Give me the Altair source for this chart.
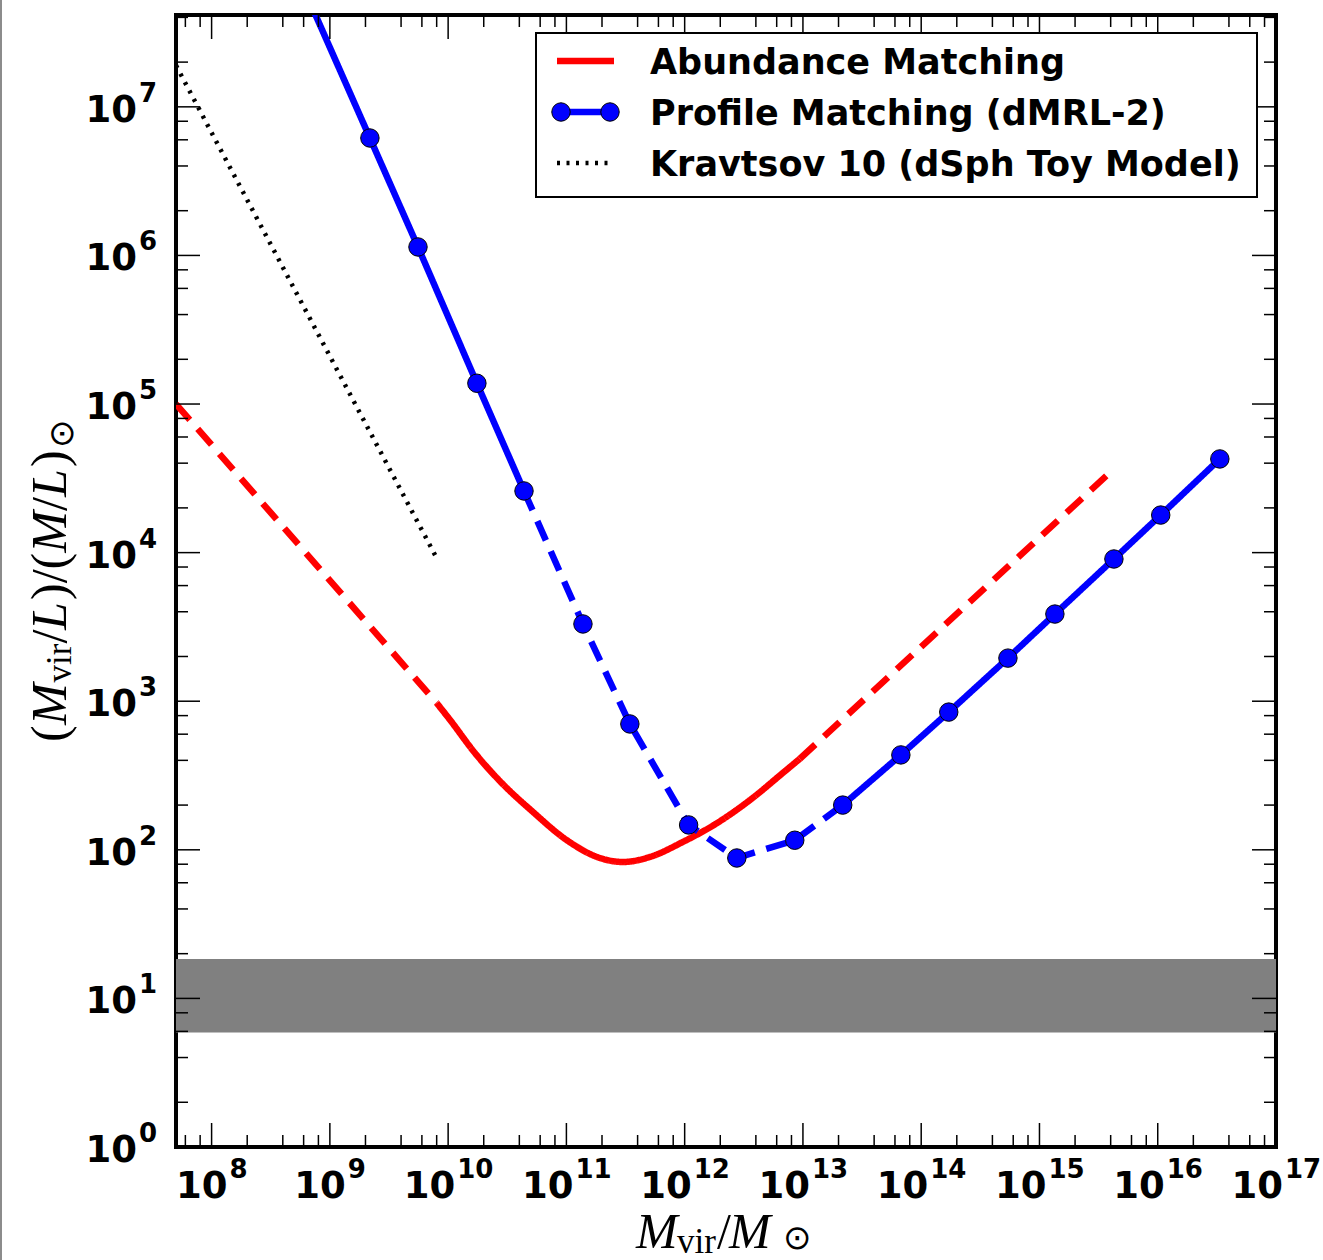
import altair as alt
import pandas as pd

# ---------------------------------------------------------------------------
# Data: halo mass vs. mass-to-light ratio (both in solar units)
# ---------------------------------------------------------------------------
# Abundance matching: extrapolated low-mass tail, constrained core, high-mass tail
am_low_mass = [5.0e7, 8.0e9]
am_low_ml = [1.0e5, 973]
am_core_mass = [8.0e9, 1.04e10, 1.66e10, 2.74e10, 5.21e10, 1.01e11, 1.92e11,
                3.01e11, 5.08e11, 9.66e11, 1.87e12, 3.56e12, 6.76e12, 9.42e12]
am_core_ml = [973, 747, 455, 290, 180, 116, 88.1, 82.8, 89.5, 113, 151, 216, 329, 410]
am_high_mass = [9.42e12, 4.34e15]
am_high_ml = [410, 3.71e4]

# Profile matching (dMRL-2)
pm_mass = [6.9e8, 2.18e9, 5.56e9, 1.75e10, 4.38e10, 1.38e11, 3.44e11, 1.08e12,
           2.76e12, 8.53e12, 2.17e13, 6.73e13, 1.71e14, 5.41e14, 1.35e15,
           4.26e15, 1.06e16, 3.35e16]
pm_ml = [4.9e7, 6.17e6, 1.14e6, 1.38e5, 2.60e4, 3.31e3, 703, 147, 88.1, 116,
         200, 435, 845, 1.95e3, 3.86e3, 9.06e3, 1.79e4, 4.27e4]
# (first index, last index, line style) of each stretch of the profile curve
pm_parts = [(0, 4, "solid"), (4, 10, "dashed"), (10, 17, "solid")]

# Kravtsov (2010) dSph toy model
kr_mass = [5.0e7, 8.0e9]
kr_ml = [1.9e7, 9.2e3]

# Stellar M/L band
band_ml = [5.9, 18.4]

x_exponents = list(range(8, 18))
y_exponents = list(range(0, 8))

legend_labels = ["Abundance Matching", "Profile Matching (dMRL-2)",
                 "Kravtsov 10 (dSph Toy Model)"]

# ---------------------------------------------------------------------------
# Layout
# ---------------------------------------------------------------------------
W, H = 1100, 1132
X_DOMAIN = [5.0e7, 1.0e17]
Y_DOMAIN = [1.0, 4.15e7]
xs = alt.Scale(type="log", domain=X_DOMAIN, nice=False)
ys = alt.Scale(type="log", domain=Y_DOMAIN, nice=False)
RED, BLUE = "#ff0000", "#0000ff"
TICK_FONT = "DejaVu Sans"
MATH_FONT = "Liberation Serif"
one = pd.DataFrame({"k": [0]})

X = lambda f="mass": alt.X(f"{f}:Q", scale=xs, axis=None)
Y = lambda f="ml": alt.Y(f"{f}:Q", scale=ys, axis=None)

layers = []

# grey band
layers.append(
    alt.Chart(pd.DataFrame({"lo": [band_ml[0]], "hi": [band_ml[1]]}))
    .mark_rect(color="#808080", opacity=1)
    .encode(x=alt.value(0), x2=alt.value(W), y=Y("lo"), y2=alt.Y2("hi:Q"))
)

# abundance matching curve
am = pd.concat([
    pd.DataFrame({"mass": am_low_mass, "ml": am_low_ml, "part": "low", "style": "dashed"}),
    pd.DataFrame({"mass": am_core_mass, "ml": am_core_ml, "part": "core", "style": "solid"}),
    pd.DataFrame({"mass": am_high_mass, "ml": am_high_ml, "part": "high", "style": "dashed"}),
])
dash = alt.StrokeDash("style:N", scale=alt.Scale(domain=["solid", "dashed"],
                                                 range=[[1, 0], [21, 12]]), legend=None)
layers.append(
    alt.Chart(am).mark_line(color=RED, strokeWidth=6.5, clip=True, interpolate="monotone")
    .encode(x=X(), y=Y(), detail="part:N", strokeDash=dash, order="mass:Q")
)

# profile matching curve
pm_frames = []
for i, (a, b, style) in enumerate(pm_parts):
    pm_frames.append(pd.DataFrame({"mass": pm_mass[a:b + 1], "ml": pm_ml[a:b + 1],
                                   "part": f"p{i}", "style": style}))
pm = pd.concat(pm_frames)
layers.append(
    alt.Chart(pm).mark_line(color=BLUE, strokeWidth=6.5, clip=True)
    .encode(x=X(), y=Y(), detail="part:N", strokeDash=dash, order="mass:Q")
)
layers.append(
    alt.Chart(pd.DataFrame({"mass": pm_mass, "ml": pm_ml}))
    .transform_filter(f"datum.ml <= {Y_DOMAIN[1]}")
    .mark_circle(size=340, color=BLUE, opacity=1, stroke="black", strokeWidth=1, clip=True)
    .encode(x=X(), y=Y())
)

# Kravtsov toy model
layers.append(
    alt.Chart(pd.DataFrame({"mass": kr_mass, "ml": kr_ml}))
    .mark_line(color="black", strokeWidth=4.5, strokeDash=[3, 6.5], clip=True)
    .encode(x=X(), y=Y())
)

# inward ticks on all four sides
x_major = [10.0 ** e for e in range(8, 17)]
x_minor = [k * 10.0 ** e for e in range(7, 17) for k in (2, 4, 6, 8)
           if X_DOMAIN[0] <= k * 10.0 ** e <= X_DOMAIN[1]]
y_major = [10.0 ** e for e in range(0, 8)]
y_minor = [k * 10.0 ** e for e in range(0, 8) for k in (2, 4, 6, 8)
           if k * 10.0 ** e <= Y_DOMAIN[1]]

for vals, length in ((x_major, 24), (x_minor, 12)):
    base = alt.Chart(pd.DataFrame({"v": vals})).mark_rule(color="black", strokeWidth=1.5)
    layers.append(base.encode(x=X("v"), y=alt.value(H), y2=alt.value(H - length)))
    layers.append(base.encode(x=X("v"), y=alt.value(0), y2=alt.value(length)))
for vals, length in ((y_major, 24), (y_minor, 12)):
    base = alt.Chart(pd.DataFrame({"v": vals})).mark_rule(color="black", strokeWidth=1.5)
    layers.append(base.encode(y=Y("v"), x=alt.value(0), x2=alt.value(length)))
    layers.append(base.encode(y=Y("v"), x=alt.value(W), x2=alt.value(W - length)))

# tick labels: "10" with a raised exponent
BASE_SIZE, EXP_SIZE = 37, 26
xl = pd.DataFrame({"v": [10.0 ** e for e in x_exponents],
                   "e": [str(e) for e in x_exponents],
                   "n": [len(str(e)) for e in x_exponents]})
for n, d10, dexp in ((1, 16, 18), (2, 7, 9)):
    sub = alt.Chart(xl).transform_filter(f"datum.n == {n}")
    layers.append(
        sub.mark_text(align="right", baseline="alphabetic", font=TICK_FONT,
                      fontWeight="bold", fontSize=BASE_SIZE, dx=d10)
        .encode(x=X("v"), y=alt.value(H + 51), text=alt.value("10"))
    )
    layers.append(
        sub.mark_text(align="left", baseline="alphabetic", font=TICK_FONT,
                      fontWeight="bold", fontSize=EXP_SIZE, dx=dexp)
        .encode(x=X("v"), y=alt.value(H + 31), text="e:N")
    )

yl = pd.DataFrame({"v": [10.0 ** e for e in y_exponents],
                   "e": [str(e) for e in y_exponents]})
layers.append(
    alt.Chart(yl).mark_text(align="right", baseline="alphabetic", font=TICK_FONT,
                            fontWeight="bold", fontSize=BASE_SIZE, dy=15)
    .encode(x=alt.value(-39), y=Y("v"), text=alt.value("10"))
)
layers.append(
    alt.Chart(yl).mark_text(align="right", baseline="alphabetic", font=TICK_FONT,
                            fontWeight="bold", fontSize=EXP_SIZE, dy=-5)
    .encode(x=alt.value(-19), y=Y("v"), text="e:N")
)


def piece(text, x, y, size, font=MATH_FONT, style="italic", angle=0):
    return (alt.Chart(one)
            .mark_text(text=text, font=font, fontStyle=style, fontSize=size,
                       align="left", baseline="alphabetic", angle=angle, color="black")
            .encode(x=alt.value(x), y=alt.value(y)))


# x-axis title  M_vir / M_sun
TS, SS, SUN = 50, 35, 34
layers += [
    piece("M", 460, 1233, TS),
    piece("vir", 501, 1238, SS, style="normal"),
    piece("/", 541, 1233, TS, style="normal"),
    piece("M", 553, 1233, TS),
    piece("\u2299", 607, 1234, SUN, font="DejaVu Sans", style="normal"),
]

# y-axis title  (M_vir/L)/(M/L)_sun, reading upwards
B, S0 = -110, 727
ytitle = [("(", 0, TS, "normal", MATH_FONT, 0), ("M", 17, TS, "italic", MATH_FONT, 0),
          ("vir", 59.5, SS, "normal", MATH_FONT, 5), ("/", 98.5, TS, "normal", MATH_FONT, 0),
          ("L", 112, TS, "italic", MATH_FONT, 0), (")", 142, TS, "normal", MATH_FONT, 0),
          ("/", 158.7, TS, "normal", MATH_FONT, 0), ("(", 172.6, TS, "normal", MATH_FONT, 0),
          ("M", 189.3, TS, "italic", MATH_FONT, 0), ("/", 231, TS, "normal", MATH_FONT, 0),
          ("L", 245, TS, "italic", MATH_FONT, 0), (")", 275, TS, "normal", MATH_FONT, 0),
          ("\u2299", 294, SUN, "normal", "DejaVu Sans", 7)]
for txt, off, size, style, font, shift in ytitle:
    layers.append(piece(txt, B + shift, S0 - off, size, font=font, style=style, angle=270))

# legend
LX0, LX1, LY0, LY1 = 360, 1081, 18, 182
ROW0, ROWH = 46, 51
SX0, SX1 = 381, 438
layers.append(
    alt.Chart(one).mark_rect(fill="white", stroke="black", strokeWidth=2)
    .encode(x=alt.value(LX0), x2=alt.value(LX1), y=alt.value(LY0), y2=alt.value(LY1))
)
layers.append(
    alt.Chart(one).mark_rule(color=RED, strokeWidth=6.5)
    .encode(x=alt.value(SX0), x2=alt.value(SX1), y=alt.value(ROW0))
)
layers.append(
    alt.Chart(one).mark_rule(color=BLUE, strokeWidth=6.5)
    .encode(x=alt.value(SX0 + 4), x2=alt.value(SX1 - 4), y=alt.value(ROW0 + ROWH))
)
for cx in (SX0 + 4, SX1 - 4):
    layers.append(
        alt.Chart(one).mark_circle(size=340, color=BLUE, opacity=1, stroke="black", strokeWidth=1)
        .encode(x=alt.value(cx), y=alt.value(ROW0 + ROWH))
    )
layers.append(
    alt.Chart(one).mark_rule(color="black", strokeWidth=4.5, strokeDash=[3, 6.5])
    .encode(x=alt.value(SX0), x2=alt.value(SX1 - 4), y=alt.value(ROW0 + 2 * ROWH))
)
layers.append(
    alt.Chart(pd.DataFrame({"label": legend_labels, "row": list(range(len(legend_labels)))}))
    .transform_calculate(py=f"{ROW0 + 2} + datum.row * {ROWH}")
    .mark_text(align="left", baseline="middle", font=TICK_FONT, fontWeight="bold",
               fontSize=35, color="black")
    .encode(x=alt.value(474), y=alt.Y("py:Q", scale=None, axis=None), text="label:N")
)

# thin grey border at the left edge of the figure
layers.append(
    alt.Chart(one).mark_rule(color="#8c8c8c", strokeWidth=2)
    .encode(x=alt.value(-175), y=alt.value(-15), y2=alt.value(1245))
)

chart = (
    alt.layer(*layers)
    .properties(width=W, height=H, background="white",
                padding={"left": 176, "top": 15, "right": 47, "bottom": 113},
                autosize=alt.AutoSizeParams(type="none"))
    .configure_view(stroke="black", strokeWidth=4)
)

chart.save("out.html", embed_options={"renderer": "svg", "actions": False})
